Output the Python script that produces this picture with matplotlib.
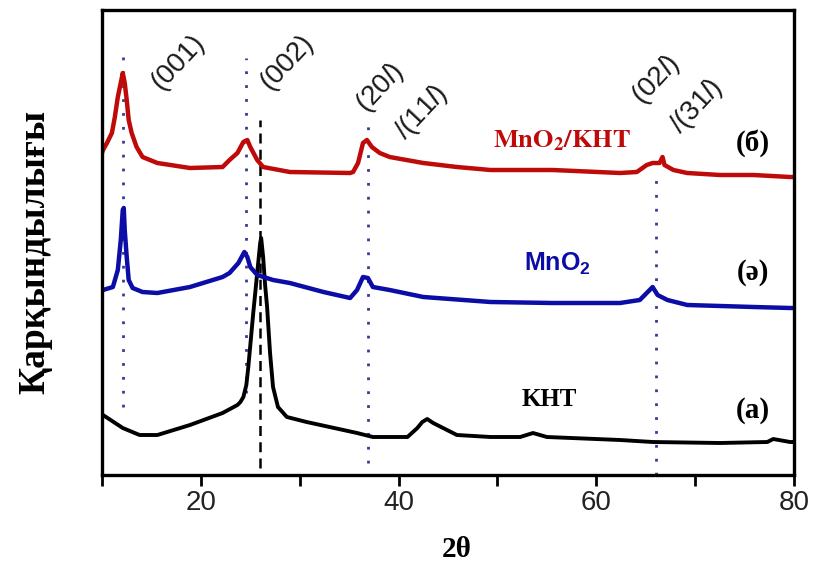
import matplotlib
matplotlib.use("Agg")
import matplotlib.pyplot as plt

# 2theta / intensity (arbitrary units)
kht_x = [10.0, 10.1, 12.1, 13.8, 15.6, 18.9, 22.2, 23.7, 24.0, 24.3, 24.6, 24.8, 25.3, 25.7,
         26.0, 26.1, 26.3, 26.5, 26.7, 27.0, 27.3, 27.8, 28.7, 30.7, 35.8, 37.4, 40.9,
         41.9, 42.4, 42.9, 43.5, 44.5, 45.9, 49.3, 52.3, 53.6, 55.0, 62.4, 65.7, 72.5,
         77.3, 77.9, 79.6, 80.0]
kht_y = [61, 60, 47, 40, 40, 50, 62, 70, 73, 78, 90, 108, 162, 202,
         232, 237, 218, 190, 168, 122, 88, 68, 58, 53, 42, 38, 38,
         47, 53, 56, 52, 47, 40, 38, 38, 42, 38, 35, 33, 32,
         33, 36, 33, 33]

mno2_x = [10.0, 10.1, 11.1, 11.6, 11.9, 12.1, 12.2, 12.3, 12.5, 12.7, 13.1, 14.1, 15.6,
          18.9, 22.2, 22.9, 23.8, 24.4, 24.7, 25.0, 25.7, 27.3, 29.0, 32.4, 35.1, 35.8,
          36.4, 36.9, 37.4, 39.1, 42.5, 49.3, 55.6, 62.4, 64.4, 65.4, 65.7, 66.2, 67.2,
          69.2, 75.9, 79.6, 80.0]
mno2_y = [184, 185, 188, 205, 235, 265, 267, 245, 218, 195, 187, 183, 182,
          188, 198, 202, 212, 223, 218, 208, 200, 195, 192, 183, 177, 185,
          198, 197, 188, 185, 178, 173, 172, 172, 175, 185, 188, 180, 175,
          170, 168, 167, 167]

comp_x = [10.0, 10.1, 10.5, 11.0, 11.3, 11.6, 12.0, 12.1, 12.3, 12.5, 12.7, 13.0, 13.5,
          14.1, 15.6, 18.9, 22.2, 22.9, 23.7, 24.3, 24.7, 25.0, 25.7, 26.3, 29.0, 35.1,
          35.4, 35.9, 36.4, 36.8, 37.3, 38.1, 39.1, 42.5, 45.9, 49.3, 55.6, 62.4, 64.1,
          65.1, 65.7, 66.4, 66.7, 66.9, 67.8, 69.2, 72.5, 75.9, 79.6, 80.0]
comp_y = [322, 325, 332, 342, 358, 378, 397, 402, 392, 375, 355, 342, 328,
          318, 312, 307, 308, 315, 322, 333, 335, 328, 315, 308, 303, 302,
          303, 312, 332, 335, 328, 322, 318, 312, 308, 305, 305, 302, 303,
          310, 312, 312, 318, 310, 305, 302, 300, 300, 298, 298]

# reflection positions: dotted guides (x, y from, y to) and KHT dashed guide
guide_x = [12.1, 24.6, 36.9, 66.0]
guide_y0 = [68, 82, 12, 0]
guide_y1 = [420, 417, 350, 303]
kht_line_x = 26.0
kht_line_y = [7, 355]

peak_labels = ["(001)", "(002)", r"(20$\mathit{l}$)", r"/(11$\mathit{l}$)",
               r"(02$\mathit{l}$)", r"/(31$\mathit{l}$)"]
peak_label_x = [17.7, 28.7, 38.1, 42.3, 66.1, 70.2]
peak_label_y = [413, 413, 387, 362, 395, 368]

xtick_pos = [10, 20, 30, 40, 50, 60, 70, 80]
xtick_labels = ["", "20", "", "40", "", "60", "", "80"]

red = "#bf0a0a"
blue = "#0c0ca6"

plt.rcParams["mathtext.fontset"] = "custom"
plt.rcParams["mathtext.rm"] = "Liberation Sans"
plt.rcParams["mathtext.it"] = "Liberation Sans:italic"
plt.rcParams["mathtext.bf"] = "Liberation Sans:bold"
serif = ["Liberation Serif", "DejaVu Serif"]

fig = plt.figure(figsize=(8.15, 5.66), dpi=100)
ax = fig.add_axes([102 / 815, 91 / 566, 692 / 815, 465 / 566])

for gx, g0, g1 in zip(guide_x, guide_y0, guide_y1):
    ax.plot([gx, gx], [g0, g1], color="#3a3a96", lw=2.0, ls=(0, (1, 4)), zorder=1)
ax.plot([kht_line_x, kht_line_x], kht_line_y, color="black", lw=1.8, ls=(0, (4, 2.5)), zorder=1)

ax.plot(kht_x, kht_y, color="black", lw=2.8, zorder=2)
ax.plot(mno2_x, mno2_y, color=blue, lw=3.2, zorder=2)
ax.plot(comp_x, comp_y, color=red, lw=3.2, zorder=2)

for txt, px, py in zip(peak_labels, peak_label_x, peak_label_y):
    ax.text(px, py, txt, rotation=47, ha="center", va="center", fontsize=20,
            family="Liberation Sans", color="#1a1a1a")

ax.text(56.5, 335, r"$\mathbf{MnO_2/KHT}$", color=red, fontsize=19,
        ha="center", va="center", math_fontfamily="stix")
ax.text(56.1, 211, r"$\mathbf{MnO_2}$", color=blue, fontsize=18,
        ha="center", va="center")
ax.text(55.2, 75, "KHT", color="black", fontsize=18, fontweight="bold",
        family=serif, ha="center", va="center")

ax.text(75.8, 332, "(б)", fontsize=21, fontweight="bold", family=serif, ha="center", va="center")
ax.text(75.8, 202, "(ә)", fontsize=21, fontweight="bold", family=serif, ha="center", va="center")
ax.text(75.8, 64, "(a)", fontsize=21, fontweight="bold", family=serif, ha="center", va="center")

ax.set_xlim(10, 80)
ax.set_ylim(0, 465)
ax.set_xticks(xtick_pos)
ax.set_xticklabels(xtick_labels, family="Liberation Sans", fontsize=20, color="#222222")
ax.set_yticks([])
ax.tick_params(axis="x", direction="out", length=8, width=2, pad=3)
for s in ax.spines.values():
    s.set_linewidth(2.4)

ax.set_xlabel("2θ", fontsize=21, fontweight="bold", family=serif, va="center")
ax.xaxis.set_label_coords(0.513, -0.161)
ax.set_ylabel("Қарқындылығы", fontsize=27, fontweight="bold", family=serif,
              ha="center", va="center", rotation=90)
ax.yaxis.set_label_coords(-0.097, 0.48)

plt.savefig("out.png", dpi=100)
